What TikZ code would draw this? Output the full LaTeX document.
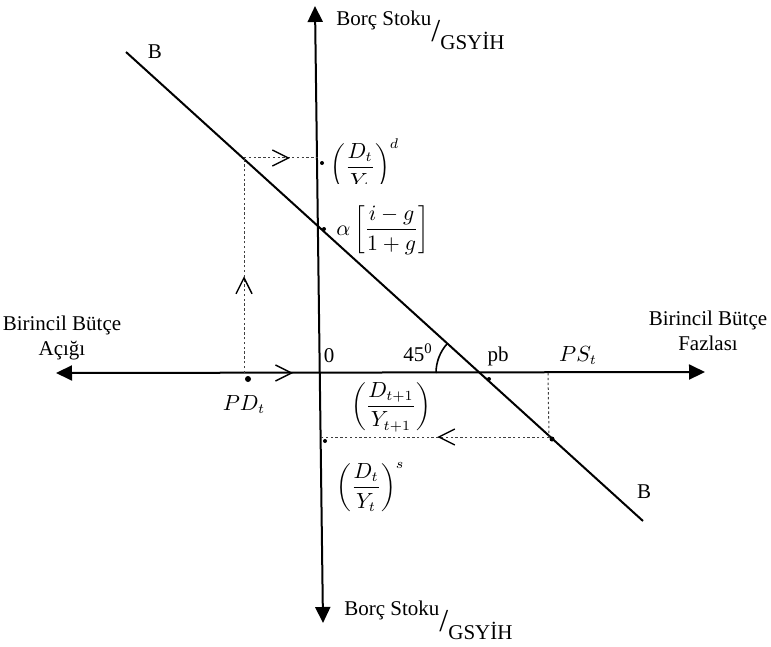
\documentclass[tikz,border=0pt]{standalone}
\usepackage{fontspec}
\setmainfont{Liberation Serif}
\usetikzlibrary{arrows.meta,decorations.markings}
\tikzset{
  axisline/.style={line width=1pt,{Triangle[length=8pt,width=7.5pt]}-{Triangle[length=8pt,width=7.5pt]}},
  bline/.style={line width=1pt},
  guide/.style={black!75,line width=0.5pt,dash pattern=on 1.2pt off 1.2pt},
  chev/.style={postaction={decorate,decoration={markings,
      mark=at position #1 with {\arrow[solid,black,line width=0.7pt]{Straight Barb[length=8pt,width=8pt]}}}}},
  smalldot/.style={circle,fill,inner sep=0pt,minimum size=#1},
  smalldot/.default=2pt
}
\begin{document}
\begin{tikzpicture}[x=0.5pt,y=-0.5pt,every node/.style={font=\fontsize{10.5}{12.5}\selectfont,inner sep=0pt}]
\useasboundingbox (0,0) rectangle (771,647);
% axes
\coordinate (vtop) at (315,6);
\coordinate (vbot) at (323,623);
\coordinate (hleft) at (56,373);
\coordinate (hright) at (705,372);
\coordinate (O) at (320,373);
\draw[axisline] (vbot) -- (vtop);
\draw[axisline] (hleft) -- (hright);
\node[anchor=base west] (ytop) at (336,26) {Borç Stoku\raisebox{-8pt}{\fontsize{16}{16}\selectfont /}\raisebox{-12pt}{GSYİH}};
\node[anchor=base west] (ybot) at (344,615) {Borç Stoku\raisebox{-8pt}{\fontsize{16}{16}\selectfont /}\raisebox{-12pt}{GSYİH}};
\node[align=center] (xleft) at (62,338) {Birincil Bütçe\\Açığı};
\node[align=center] (xright) at (708,331) {Birincil Bütçe\\Fazlası};
\node[anchor=base] (zero) at (329,362) {0};
% B line
\coordinate (Btop) at (126,52);
\coordinate (Bbot) at (643,521);
\coordinate (X) at (480,373);
\draw[bline] (Btop) -- (Bbot);
\node (Blab1) at (155,52) {B};
\node (Blab2) at (644,492) {B};
\draw[line width=0.8pt] ([xshift=-22pt]X) arc[start angle=180,end angle=138,radius=22pt];
\node[anchor=base] (ang) at (418,361) {45\textsuperscript{0}};
\node[anchor=base] (pb) at (498,361) {pb};
% deficit side
\coordinate (Dd) at (244,158);
\coordinate (Dy) at (318,158);
\coordinate (PDx) at (244,373);
\draw[guide,chev=0.45] (PDx) -- (Dd);
\draw[guide,chev=0.62] (Dd) -- (Dy);
\path[chev=0.645] (PDx) -- (O);
\node[anchor=base] (pd) at (244,410) {$PD_t$};
% surplus side
\coordinate (PSx) at (548,373);
\coordinate (PSb) at (549,437);
\coordinate (Ds) at (321,437);
\draw[guide] (PSx) -- (PSb);
\draw[guide,chev=0.49] (PSb) -- (Ds);
\node[anchor=base] (ps) at (578,361) {$PS_t$};
% dots
\node[smalldot=3pt] (pdd) at (248,379) {};
\node[smalldot] (pbd) at (489,379) {};
\node[smalldot=2.5pt] (psd) at (552,439) {};
\node[smalldot] (dsd) at (325,441) {};
\node[smalldot] (ddd) at (322,163) {};
\node[smalldot] (ad) at (324,229) {};
% ratios
\begin{scope}
\clip (325,110) rectangle (420,183);
\node[anchor=west] (dd) at (330,165) {$\displaystyle\left(\frac{D_t}{Y_t}\right)^{d}$};
\end{scope}
\node[anchor=west] (al) at (336,230) {$\displaystyle\alpha\left[\frac{i-g}{1+g}\right]$};
\node (dnext) at (391,407) {$\displaystyle\left(\frac{D_{t+1}}{Y_{t+1}}\right)$};
\node[anchor=west] (ds) at (336,487) {$\displaystyle\left(\frac{D_t}{Y_t}\right)^{s}$};
\end{tikzpicture}
\end{document}
